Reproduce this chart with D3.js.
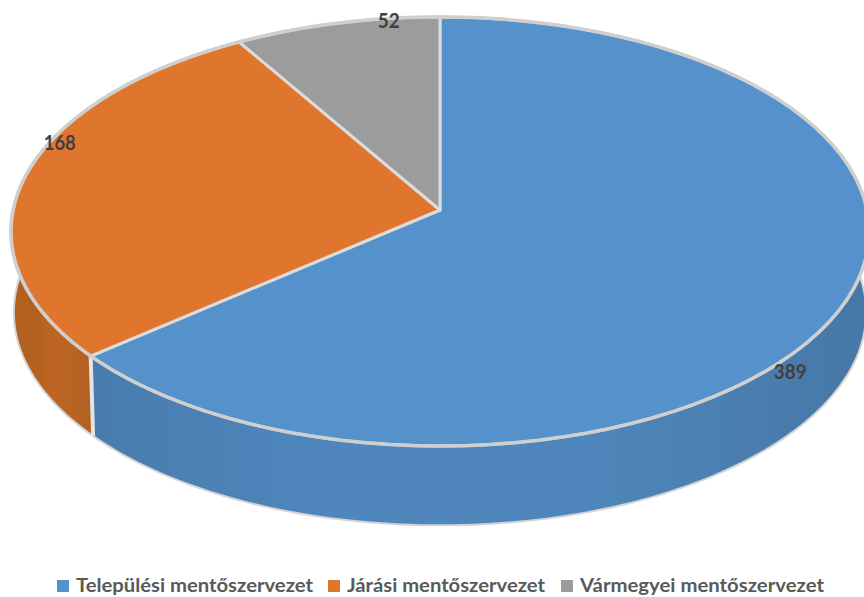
<!DOCTYPE html>
<html><head><meta charset="utf-8">
<script src="https://cdn.jsdelivr.net/npm/d3@7/dist/d3.min.js"></script>
<style>html,body{margin:0;padding:0;background:#fff;overflow:hidden}svg{display:block}
text{font-family:Lato,"Open Sans",sans-serif;font-weight:700}</style></head><body>
<svg id="c" width="864" height="597"></svg>
<script>
const categories = ["Települési mentőszervezet", "Járási mentőszervezet", "Vármegyei mentőszervezet"];
const values = [389, 168, 52];
const topColors = ["#5592cb", "#e0762e", "#9c9c9c"];
const wallStops = [
  ["#487cae", "#4f87bd", "#4e86bb", "#4779a8"],
  ["#b4601f", "#bd6623", "#b96424", "#b26020"],
  ["#777777", "#777777", "#777777", "#777777"]
];
const legendX = [57, 328, 561];
const legendW = [237, 198, 244];

const svg = d3.select("#c");
const defs = svg.append("defs");

const cx = 440, k = 0.1;
const top_ = {y0: 210, rx: 427, ry: 212.4, s: 1};
const bot_ = {y0: 291, rx: 427, ry: 212.4, s: 0.993};
function project(a, d, p) {
  const u = Math.sin(a), v = -Math.cos(a), w = 1 - k * v;
  return [cx + d.s * p * d.rx * u / w, d.y0 + d.s * p * d.ry * v / w];
}
const pie = d3.pie().sort(null).value(d => d)(values);
const line = d3.line();
const arcPts = (a0, a1, d) => d3.range(0, 121).map(i => project(a0 + (a1 - a0) * i / 120, d, 1));

const frontA = [Math.PI * 0.42, Math.PI * 1.58];
const walls = svg.append("g");
pie.forEach((s, i) => {
  const a0 = Math.max(s.startAngle, frontA[0]), a1 = Math.min(s.endAngle, frontA[1]);
  if (a1 <= a0) return;
  const g = defs.append("linearGradient").attr("id", "w" + i).attr("gradientUnits", "userSpaceOnUse")
    .attr("x1", project(a1, top_, 1)[0]).attr("x2", project(a0, top_, 1)[0]).attr("y1", 0).attr("y2", 0);
  wallStops[i].forEach((c, j) => g.append("stop").attr("offset", j / 3).attr("stop-color", c));
  const pts = arcPts(a0, a1, top_).concat(arcPts(a0, a1, bot_).reverse());
  walls.append("path").attr("d", line(pts) + "Z").attr("fill", `url(#w${i})`);
  walls.append("path").attr("d", line(arcPts(a0, a1, bot_))).attr("fill", "none").attr("stroke", "#d4d4d4").attr("stroke-width", 2);
  const e0 = project(s.startAngle, top_, 1), e1 = project(s.startAngle, bot_, 1);
  if (s.startAngle > frontA[0]) walls.append("path").attr("d", line([e0, e1])).attr("stroke", "#e4e4e4").attr("stroke-width", 4).attr("fill", "none");
});

// top faces
const tops = svg.append("g");
pie.forEach((s, i) => {
  const pts = [project(0, top_, 0)].concat(arcPts(s.startAngle, s.endAngle, top_));
  tops.append("path").attr("d", line(pts) + "Z").attr("fill", topColors[i])
    .attr("stroke", "#dcdcdc").attr("stroke-width", 3).attr("stroke-linejoin", "round");
});
// outer rim
svg.append("path").attr("d", line(arcPts(0, 2 * Math.PI, top_)) + "Z").attr("fill", "none")
  .attr("stroke", "#cfcfcf").attr("stroke-width", 3.5);

// value labels: angle around the disc and radius factor
const labelAngle = [2.298, 5.085, 6.154];
const labelRadius = [1.025, 0.991, 1.022];
const labelWidth = [33, 32, 22];
pie.forEach((s, i) => {
  const [x, y] = project(labelAngle[i], top_, labelRadius[i]);
  svg.append("text").attr("x", x).attr("y", y + 14)
    .attr("text-anchor", "middle").attr("font-size", 20).attr("fill", "#404040")
    .attr("textLength", labelWidth[i]).attr("lengthAdjust", "spacingAndGlyphs").text(values[i]);
});

// legend
categories.forEach((c, i) => {
  svg.append("rect").attr("x", legendX[i]).attr("y", 580).attr("width", 12).attr("height", 12).attr("fill", topColors[i]);
  svg.append("text").attr("x", legendX[i] + 19).attr("y", 592).attr("font-size", 19).attr("fill", "#595959")
    .attr("textLength", legendW[i]).attr("lengthAdjust", "spacingAndGlyphs").text(c);
});
</script></body></html>
